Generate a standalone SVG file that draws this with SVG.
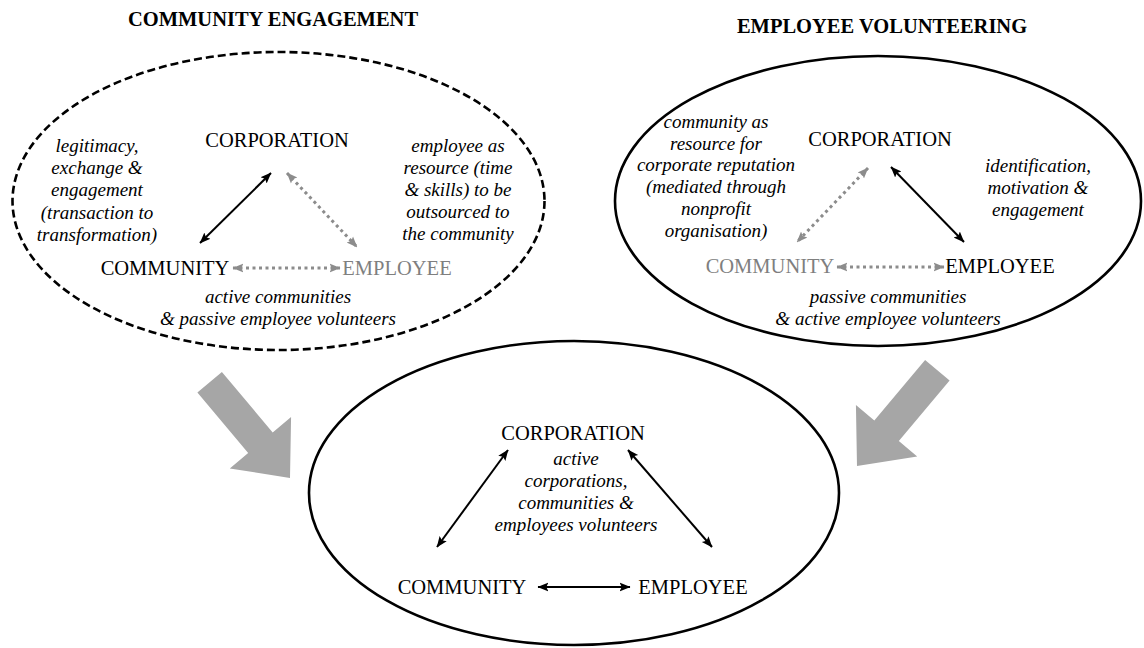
<svg xmlns="http://www.w3.org/2000/svg" width="1144" height="648" viewBox="0 0 1144 648">
  <defs>
    <style>
      .title { font-family: "Liberation Serif", "Times New Roman", serif; font-weight: bold; font-size: 20.5px; fill: #000; text-anchor: middle; }
      .label { font-family: "Liberation Serif", "Times New Roman", serif; font-size: 20.5px; fill: #000; text-anchor: middle; }
      .label.dim { fill: #7f7f7f; }
      .note { font-family: "Liberation Serif", "Times New Roman", serif; font-style: italic; font-size: 19px; fill: #000; text-anchor: middle; }
      .frame { fill: none; stroke: #000; stroke-width: 2.6; }
      .frame.dashed { stroke-dasharray: 8 4; }
      .link { fill: none; stroke: #000; stroke-width: 2; marker-start: url(#headBlack); marker-end: url(#headBlack); }
      .link.dotted { stroke: #8c8c8c; stroke-width: 3; stroke-dasharray: 3 3.5; marker-start: url(#headGrey); marker-end: url(#headGrey); }
      .flow { fill: #a6a6a6; stroke: none; }
    </style>
    <marker id="headBlack" viewBox="0 0 10 10" refX="9.5" refY="5" markerWidth="11" markerHeight="11" markerUnits="userSpaceOnUse" orient="auto-start-reverse">
      <path d="M0,1 L10,5 L0,9 L2,5 z" fill="#000"/>
    </marker>
    <marker id="headGrey" viewBox="0 0 10 10" refX="9.5" refY="5" markerWidth="11" markerHeight="11" markerUnits="userSpaceOnUse" orient="auto-start-reverse">
      <path d="M0,1 L10,5 L0,9 L2,5 z" fill="#8c8c8c"/>
    </marker>
  </defs>

  <rect width="1144" height="648" fill="#fff"/>

  <!-- headings -->
  <text class="title" x="273" y="26">COMMUNITY ENGAGEMENT</text>
  <text class="title" x="882" y="33">EMPLOYEE VOLUNTEERING</text>

  <!-- outer frames -->
  <g id="frame-engagement"><ellipse class="frame dashed" cx="278.5" cy="201" rx="266" ry="149"/></g>
  <g id="frame-volunteering"><ellipse class="frame" cx="878" cy="201" rx="263" ry="145"/></g>
  <g id="frame-combined"><ellipse class="frame" cx="574" cy="493" rx="265" ry="152"/></g>

  <!-- broad grey arrows leading into the combined model -->
  <g id="flow-left"><polygon class="flow" points="-125,-16 -46,-16 -46,-40 0,0 -46,40 -46,16 -125,16" transform="translate(290,478) rotate(50)"/></g>
  <g id="flow-right"><polygon class="flow" points="-125,-16 -46,-16 -46,-40 0,0 -46,40 -46,16 -125,16" transform="translate(857,466) rotate(130)"/></g>

  <!-- community engagement model -->
  <g id="ce-corporation"><text class="label" x="277" y="147">CORPORATION</text></g>
  <g id="ce-community"><text class="label" x="165" y="275">COMMUNITY</text></g>
  <g id="ce-employee"><text class="label dim" x="397" y="275">EMPLOYEE</text></g>
  <g id="ce-note-left">
    <text class="note" x="97" y="152">legitimacy,</text>
    <text class="note" x="97" y="174">exchange &amp;</text>
    <text class="note" x="97" y="196">engagement</text>
    <text class="note" x="97" y="219">(transaction to</text>
    <text class="note" x="97" y="241">transformation)</text>
  </g>
  <g id="ce-note-right">
    <text class="note" x="458" y="152">employee as</text>
    <text class="note" x="458" y="174">resource (time</text>
    <text class="note" x="458" y="196">&amp; skills) to be</text>
    <text class="note" x="458" y="218">outsourced to</text>
    <text class="note" x="458" y="240">the community</text>
  </g>
  <g id="ce-note-bottom">
    <text class="note" x="278" y="303">active communities</text>
    <text class="note" x="278" y="325">&amp; passive employee volunteers</text>
  </g>

  <!-- employee volunteering model -->
  <g id="ev-corporation"><text class="label" x="880" y="146">CORPORATION</text></g>
  <g id="ev-community"><text class="label dim" x="770" y="273">COMMUNITY</text></g>
  <g id="ev-employee"><text class="label" x="1000" y="273">EMPLOYEE</text></g>
  <g id="ev-note-left">
    <text class="note" x="716" y="128">community as</text>
    <text class="note" x="716" y="150">resource for</text>
    <text class="note" x="716" y="171">corporate reputation</text>
    <text class="note" x="716" y="193">(mediated through</text>
    <text class="note" x="716" y="215">nonprofit</text>
    <text class="note" x="716" y="237">organisation)</text>
  </g>
  <g id="ev-note-right">
    <text class="note" x="1038" y="172">identification,</text>
    <text class="note" x="1038" y="194">motivation &amp;</text>
    <text class="note" x="1038" y="216">engagement</text>
  </g>
  <g id="ev-note-bottom">
    <text class="note" x="888" y="303">passive communities</text>
    <text class="note" x="888" y="325">&amp; active employee volunteers</text>
  </g>

  <!-- combined model -->
  <g id="cb-corporation"><text class="label" x="573" y="440">CORPORATION</text></g>
  <g id="cb-community"><text class="label" x="462" y="594">COMMUNITY</text></g>
  <g id="cb-employee"><text class="label" x="693" y="594">EMPLOYEE</text></g>
  <g id="cb-note">
    <text class="note" x="576" y="465">active</text>
    <text class="note" x="576" y="487">corporations,</text>
    <text class="note" x="576" y="509">communities &amp;</text>
    <text class="note" x="576" y="531">employees volunteers</text>
  </g>

  <!-- relationship connectors -->
  <g id="connectors">
    <line class="link" x1="200" y1="243" x2="271" y2="173"/>
    <line class="link dotted" x1="287" y1="173" x2="357" y2="247"/>
    <line class="link dotted" x1="233" y1="268" x2="340" y2="268"/>

    <line class="link dotted" x1="868" y1="168" x2="797" y2="242"/>
    <line class="link" x1="891" y1="167" x2="964" y2="242"/>
    <line class="link dotted" x1="837" y1="267" x2="944" y2="267"/>

    <line class="link" x1="437" y1="547" x2="508" y2="450"/>
    <line class="link" x1="628" y1="450" x2="712" y2="547"/>
    <line class="link" x1="538" y1="587" x2="630" y2="587"/>
  </g>
</svg>
